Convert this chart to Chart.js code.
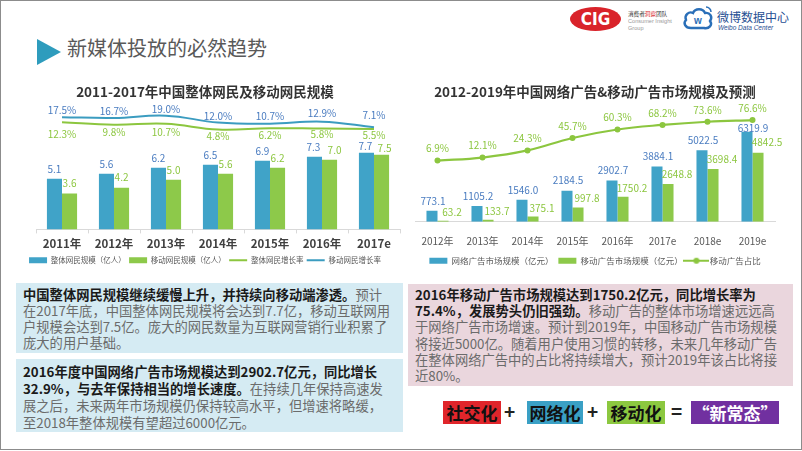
<!DOCTYPE html>
<html><head><meta charset="utf-8">
<script src="https://cdn.jsdelivr.net/npm/chart.js@4.4.0/dist/chart.umd.min.js"></script>
<style>
body{margin:0;width:802px;height:451px;overflow:hidden;background:#fff;font-family:"Noto Sans CJK SC",sans-serif;position:relative}
.abs{position:absolute}
.frame{left:0;top:0;width:800px;height:448px;border:1px solid #8c8c8c}
.tri{left:37px;top:39px;width:0;height:0;border-left:24px solid #2e9cbd;border-top:13.5px solid transparent;border-bottom:13.5px solid transparent}
.ttl{left:67px;top:36px;font-size:20px;line-height:24px;color:#595959;white-space:nowrap}
.box{white-space:nowrap;color:#6b6b6b;font-size:13.3px}
.box b{color:#1a1a1a}
.fx{top:401px;height:23px;line-height:23px;text-align:center;font-weight:bold;font-size:17px;color:#111}
.op{top:399px;font-weight:bold;font-size:19px;line-height:24px;color:#222}
</style></head><body>
<div class="abs frame"></div>
<div class="abs tri"></div>
<div class="abs ttl">新媒体投放的必然趋势</div>

<div class="abs" style="left:570px;top:7px;width:51px;height:24px;border-radius:50%;background:#d9232a;color:#fff;font-weight:bold;font-size:17px;line-height:24px;text-align:center;font-family:'Liberation Sans Narrow','DejaVu Sans Condensed',sans-serif">CIG</div>
<div class="abs" style="left:628px;top:11px;font-size:5.6px;line-height:7px;color:#333;white-space:nowrap">消费者<span style="color:#d9232a">洞察</span>团队</div>
<div class="abs" style="left:628px;top:18px;font-size:5.6px;line-height:7px;color:#999;white-space:nowrap;font-family:'Liberation Sans',sans-serif">Consumer Insight</div>
<div class="abs" style="left:628px;top:25px;font-size:5.6px;line-height:7px;color:#999;white-space:nowrap;font-family:'Liberation Sans',sans-serif">Group</div>
<svg class="abs" style="left:682px;top:4px" width="32" height="28" viewBox="0 0 32 28">
<path d="M9 24 C3 24 1 19 4 16 C2 11 7 7 11 9 C13 4 21 4 23 9 C28 8 31 13 28 17 C31 21 27 25 22 24 Z" fill="none" stroke="#2a6fb8" stroke-width="2.4"/>
<text x="16" y="20" text-anchor="middle" font-size="10" font-weight="bold" fill="#2a6fb8" font-family="Liberation Sans">w</text>
<path d="M24 3 A5 5 0 0 1 29 8" fill="none" stroke="#2a6fb8" stroke-width="1.5"/>
</svg>
<div class="abs" style="left:717px;top:10px;font-size:12px;line-height:14px;color:#1f4f93;white-space:nowrap">微博数据中心</div>
<div class="abs" style="left:718px;top:24px;font-size:6.5px;line-height:7px;color:#1f4f93;white-space:nowrap;font-style:italic;font-family:'Liberation Sans',sans-serif">Weibo Data Center</div>

<canvas id="c1" class="abs" style="left:10px;top:80px" width="392" height="194"></canvas>
<canvas id="c2" class="abs" style="left:400px;top:80px" width="400" height="195"></canvas>

<div class="abs box" style="left:16px;top:283px;width:387px;height:70px;background:#d5ebf3;box-sizing:border-box;padding:4px 0 0 7px;line-height:15.9px">
<b>中国整体网民规模继续缓慢上升，并持续向移动端渗透。</b>预计<br>在2017年底，中国整体网民规模将会达到7.7亿，移动互联网用<br>户规模会达到7.5亿。庞大的网民数量为互联网营销行业积累了<br>庞大的用户基础。</div>
<div class="abs box" style="left:16px;top:359px;width:387px;height:73px;background:#d5ebf3;box-sizing:border-box;padding:4px 0 0 7px;line-height:17px">
<b>2016年度中国网络广告市场规模达到2902.7亿元，同比增长</b><br><b>32.9%，与去年保持相当的增长速度。</b>在持续几年保持高速发<br>展之后，未来两年市场规模仍保持较高水平，但增速将略缓，<br>至2018年整体规模有望超过6000亿元。</div>
<div class="abs box" style="left:408px;top:284px;width:385px;height:102px;background:#ead6dd;box-sizing:border-box;padding:3px 0 0 7px;line-height:16.2px">
<b>2016年移动广告市场规模达到1750.2亿元，同比增长率为</b><br><b>75.4%，发展势头仍旧强劲。</b>移动广告的整体市场增速远远高<br>于网络广告市场增速。预计到2019年，中国移动广告市场规模<br>将接近5000亿。随着用户使用习惯的转移，未来几年移动广告<br>在整体网络广告中的占比将持续增大，预计2019年该占比将接<br>近80%。</div>

<div class="abs fx" style="left:443px;width:58px;background:#e0252b">社交化</div>
<div class="abs op" style="left:504px">+</div>
<div class="abs fx" style="left:527px;width:56px;background:#3aa0c5">网络化</div>
<div class="abs op" style="left:587px">+</div>
<div class="abs fx" style="left:607px;width:58px;background:#8cc840">移动化</div>
<div class="abs op" style="left:671px">=</div>
<div class="abs fx" style="left:691px;width:88px;background:#7130a0;color:#fff">“新常态”</div>

<script>
// ---- data: chart 1 ----
const userYears = ['2011年','2012年','2013年','2014年','2015年','2016年','2017e'];
const totalUsers = [5.1, 5.6, 6.2, 6.5, 6.9, 7.3, 7.7];
const mobileUsers = [3.6, 4.2, 5.0, 5.6, 6.2, 7.0, 7.5];
const totalGrowth = [12.3, 9.8, 10.7, 4.8, 6.2, 5.8, 5.5];
const mobileGrowth = [17.5, 16.7, 19.0, 12.0, 10.7, 12.9, 7.1];
// ---- data: chart 2 ----
const adYears = ['2012年','2013年','2014年','2015年','2016年','2017e','2018e','2019e'];
const netAdMarket = [773.1, 1105.2, 1546.0, 2184.5, 2902.7, 3884.1, 5022.5, 6319.9];
const mobileAdMarket = [63.2, 133.7, 375.1, 997.8, 1750.2, 2648.8, 3698.4, 4842.5];
const mobileAdShare = [6.9, 12.1, 24.3, 45.7, 60.3, 68.2, 73.6, 76.6];

const FONT = '"Noto Sans CJK SC", sans-serif';
const BLUE = '#40a3c8', GREEN = '#8dc94a', LBLUE = '#4a7cc0', LGREEN = '#8cc63f';

const valueLabels = {
  id: 'valueLabels',
  afterDatasetsDraw(chart) {
    const ctx = chart.ctx;
    const pick = (v, j) => Array.isArray(v) ? v[j] : (v || 0);
    chart.data.datasets.forEach((ds, i) => {
      const cfg = ds.labelCfg; if (!cfg) return;
      const meta = chart.getDatasetMeta(i);
      ctx.save();
      ctx.font = cfg.font; ctx.fillStyle = cfg.color;
      ctx.textAlign = 'center'; ctx.textBaseline = 'middle';
      meta.data.forEach((el, j) => {
        ctx.fillText(cfg.fmt(ds.data[j]), el.x + pick(cfg.dx, j), el.y + pick(cfg.dy, j));
      });
      ctx.restore();
    });
  }
};

function legendLabels(chart) {
  return chart.data.datasets.map((ds, i) => ({
    text: ds.label, fillStyle: ds.legendColor, strokeStyle: ds.legendColor,
    lineWidth: ds.type === 'line' ? 2 : 0, pointStyle: ds.legendStyle,
    datasetIndex: i, hidden: false, fontColor: '#595959'
  }));
}

const f1 = v => v.toFixed(1);
const fp = v => v.toFixed(1) + '%';

new Chart(document.getElementById('c1'), {
  data: {
    labels: userYears,
    datasets: [
      { type: 'bar', label: '整体网民规模（亿人）', data: totalUsers, backgroundColor: BLUE, yAxisID: 'y',
        legendColor: BLUE, legendStyle: 'rect', order: 2,
        labelCfg: { font: '10px ' + FONT, color: LBLUE, dy: [-10, -10, -10, -10, -10, -10, -7], dx: [0, 0, 0, 0, 0, -1, -1], fmt: f1 } },
      { type: 'bar', label: '移动网民规模（亿人）', data: mobileUsers, backgroundColor: GREEN, yAxisID: 'y',
        legendColor: GREEN, legendStyle: 'rect', order: 2,
        labelCfg: { font: '10px ' + FONT, color: LGREEN, dy: [-10, -10, -10, -10, -10, -10, -7], dx: [0, 0, 0, 0, 0, 5, 3], fmt: f1 } },
      { type: 'line', label: '整体网民增长率', data: totalGrowth, borderColor: LGREEN, borderWidth: 2,
        pointRadius: 0, tension: 0.4, yAxisID: 'y2', legendColor: LGREEN, legendStyle: 'line', order: 1,
        labelCfg: { font: '10px ' + FONT, color: LGREEN, dy: [12, 8, 8, 7, 7, 6, 6], fmt: fp } },
      { type: 'line', label: '移动网民增长率', data: mobileGrowth, borderColor: '#3b9cc0', borderWidth: 2,
        pointRadius: 0, tension: 0.4, yAxisID: 'y2', legendColor: '#3b9cc0', legendStyle: 'line', order: 1,
        labelCfg: { font: '10px ' + FONT, color: LBLUE, dy: [-7, -7, -6, -6, -8, -8, -12], fmt: fp } }
    ]
  },
  options: {
    responsive: false, animation: false, devicePixelRatio: 1,
    layout: { padding: { left: 0, right: 2, top: 0, bottom: 0 } },
    datasets: { bar: { categoryPercentage: 0.58, barPercentage: 1 } },
    scales: {
      x: { grid: { display: true, drawOnChartArea: false, drawTicks: true, tickLength: 4, color: '#d9d9d9' },
           border: { color: '#d9d9d9' },
           ticks: { font: { size: 11.5, weight: 'bold', family: FONT }, color: '#404040', padding: 3 } },
      y: { display: true, min: 0, max: 13, grid: { display: false }, border: { display: false },
           ticks: { display: false }, afterFit(s) { s.width = 26; } },
      y2: { display: false, min: -97.2, max: 34.8 }
    },
    plugins: {
      title: { display: true, text: '2011-2017年中国整体网民及移动网民规模', color: '#333',
               font: { size: 13.5, weight: 'bold', family: FONT }, padding: { top: 4, bottom: 0 } },
      legend: { position: 'bottom', labels: { usePointStyle: true, pointStyleWidth: 18, boxHeight: 6, padding: 3.3,
                font: { size: 7.5, family: FONT }, color: '#595959', generateLabels: legendLabels } },
      tooltip: { enabled: false }
    }
  },
  plugins: [valueLabels]
});

// legend icon: line with dot
const dotLine = document.createElement('canvas');
dotLine.width = 26; dotLine.height = 8;
(function () {
  const c = dotLine.getContext('2d');
  c.strokeStyle = LGREEN; c.fillStyle = LGREEN; c.lineWidth = 2;
  c.beginPath(); c.moveTo(0, 4); c.lineTo(26, 4); c.stroke();
  c.beginPath(); c.arc(13, 4, 3, 0, Math.PI * 2); c.fill();
})();

new Chart(document.getElementById('c2'), {
  data: {
    labels: adYears,
    datasets: [
      { type: 'bar', label: '网络广告市场规模（亿元）', data: netAdMarket, backgroundColor: BLUE, yAxisID: 'y',
        legendColor: BLUE, legendStyle: 'rect', order: 2,
        labelCfg: { font: '10px ' + FONT, color: LBLUE, dy: [-10, -10, -10, -10, -10, -10, -10, -4],
                    dx: [1, 1, 1, 1, 1, 1, 1, 6], fmt: f1 } },
      { type: 'bar', label: '移动广告市场规模（亿元）', data: mobileAdMarket, backgroundColor: GREEN, yAxisID: 'y',
        legendColor: GREEN, legendStyle: 'rect', order: 2,
        labelCfg: { font: '10px ' + FONT, color: LGREEN, dy: [-9, -9, -8, -9, -9, -10, -10, -11], dx: 9, fmt: f1 } },
      { type: 'line', label: '移动广告占比', data: mobileAdShare, borderColor: LGREEN, borderWidth: 2.2,
        pointRadius: 3, pointBackgroundColor: LGREEN, pointBorderWidth: 0, tension: 0.4, yAxisID: 'y2',
        legendColor: LGREEN, legendStyle: dotLine, order: 1,
        labelCfg: { font: '10px ' + FONT, color: LGREEN, dy: -12, fmt: fp } }
    ]
  },
  options: {
    responsive: false, animation: false, devicePixelRatio: 1,
    layout: { padding: { left: 15, right: 25, top: 0, bottom: 0 } },
    datasets: { bar: { categoryPercentage: 0.49, barPercentage: 1 } },
    scales: {
      x: { grid: { display: false }, border: { display: true, color: '#d9d9d9' },
           ticks: { font: { size: 10, family: FONT }, color: '#595959', padding: 5 } },
      y: { display: false, min: 0, max: 8533 },
      y2: { display: false, min: -98.3, max: 110.7 }
    },
    plugins: {
      title: { display: true, text: '2012-2019年中国网络广告&移动广告市场规模及预测', color: '#333',
               font: { size: 13.5, weight: 'bold', family: FONT }, padding: { top: 4, bottom: 0 } },
      legend: { position: 'bottom', labels: { usePointStyle: true, pointStyleWidth: 18, boxHeight: 6, padding: 4.75,
                font: { size: 8.5, family: FONT }, color: '#595959', generateLabels: legendLabels } },
      tooltip: { enabled: false }
    }
  },
  plugins: [valueLabels]
});
</script>
</body></html>
